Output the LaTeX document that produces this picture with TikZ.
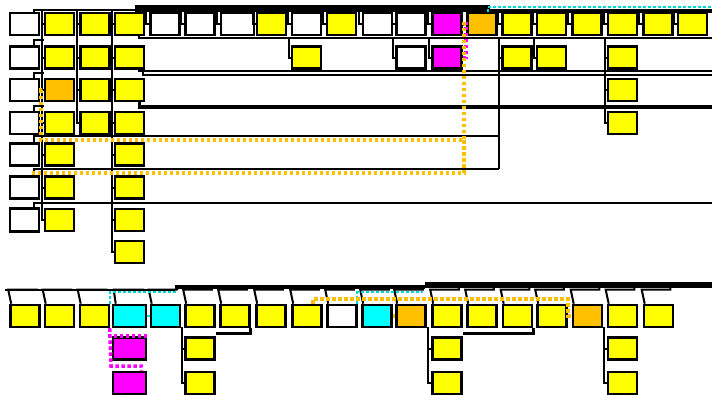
\documentclass[tikz,border=0pt]{standalone}
\usepackage{xcolor}
\usetikzlibrary{positioning}

\definecolor{cellyellow}{RGB}{255,255,0}
\definecolor{cellorange}{RGB}{255,192,0}
\definecolor{cellmagenta}{RGB}{255,0,255}
\definecolor{cellcyan}{RGB}{0,255,255}
\definecolor{dotcyan}{RGB}{0,215,215}

\tikzset{
  cell/.style={draw,line width=2.6pt,minimum width=29pt,minimum height=22pt,inner sep=0pt},
  wcell/.style={cell,fill=white},
  ycell/.style={cell,fill=cellyellow},
  ocell/.style={cell,fill=cellorange},
  mcell/.style={cell,fill=cellmagenta},
  ccell/.style={cell,fill=cellcyan},
  link/.style={line width=2pt},
  orgdot/.style={draw=cellorange,line width=3.5pt,dash pattern=on 3.5pt off 2.5pt},
  magdot/.style={draw=cellmagenta,line width=3.5pt,dash pattern=on 3.5pt off 2.5pt},
  cyandash/.style={draw=dotcyan,line width=2pt,dash pattern=on 3pt off 2pt}
}

\begin{document}
\begin{tikzpicture}[x=1pt,y=-1pt]
\useasboundingbox (0,0) rectangle (712,394);

% upper block, first row
\node[wcell] (r1c1) at (24.5,24) {};
\node[ycell] (r1c2) at (59.5,24) {};
\node[ycell] (r1c3) at (95,24) {};
\node[ycell] (r1c4) at (129.5,24) {};
\node[wcell] (r1c5) at (165,24) {};
\node[wcell] (r1c6) at (200,24) {};
\node[wcell,minimum width=33pt] (r1c7) at (237.5,24) {};
\node[ycell] (r1c8) at (271.5,24) {};
\node[wcell] (r1c9) at (306.5,24) {};
\node[ycell] (r1c10) at (341.5,24) {};
\node[wcell] (r1c11) at (377.5,24) {};
\node[wcell] (r1c12) at (411,24) {};
\node[mcell] (r1c13) at (447,24) {};
\node[ocell] (r1c14) at (482,24) {};
\node[ycell] (r1c15) at (517,24) {};
\node[ycell] (r1c16) at (551.5,24) {};
\node[ycell] (r1c17) at (587,24) {};
\node[ycell] (r1c18) at (622.5,24) {};
\node[ycell] (r1c19) at (658,24) {};
\node[ycell] (r1c20) at (692.5,24) {};

% upper block, lower rows
\node[wcell] (r2c1) at (24.5,57.5) {};
\node[ycell] (r2c2) at (59.5,57.5) {};
\node[ycell] (r2c3) at (95,57.5) {};
\node[ycell] (r2c4) at (129.5,57.5) {};
\node[ycell] (r2c9) at (306.5,57.5) {};
\node[wcell] (r2c12) at (411,57.5) {};
\node[mcell] (r2c13) at (447,57.5) {};
\node[ycell] (r2c15) at (517,57.5) {};
\node[ycell] (r2c16) at (551.5,57.5) {};
\node[ycell] (r2c18) at (622.5,57.5) {};

\node[wcell] (r3c1) at (24.5,90) {};
\node[ocell] (r3c2) at (59.5,90) {};
\node[ycell] (r3c3) at (95,90) {};
\node[ycell] (r3c4) at (129.5,90) {};
\node[ycell] (r3c18) at (622.5,90) {};

\node[wcell] (r4c1) at (24.5,123) {};
\node[ycell] (r4c2) at (59.5,123) {};
\node[ycell] (r4c3) at (95,123) {};
\node[ycell] (r4c4) at (129.5,123) {};
\node[ycell] (r4c18) at (622.5,123) {};

\node[wcell] (r5c1) at (24.5,154.5) {};
\node[ycell] (r5c2) at (59.5,154.5) {};
\node[ycell] (r5c4) at (129.5,154.5) {};

\node[wcell] (r6c1) at (24.5,187.5) {};
\node[ycell] (r6c2) at (59.5,187.5) {};
\node[ycell] (r6c4) at (129.5,187.5) {};

\node[wcell,minimum height=23pt] (r7c1) at (24.5,220) {};
\node[ycell] (r7c2) at (59.5,220) {};
\node[ycell] (r7c4) at (129.5,220) {};

\node[ycell] (r8c4) at (129.5,252) {};

% lower block
\node[ycell] (b1) at (25,316) {};
\node[ycell] (b2) at (59.5,316) {};
\node[ycell] (b3) at (94.5,316) {};
\node[ccell,minimum width=33pt] (b4) at (129.5,316) {};
\node[ccell] (b5) at (165.5,316) {};
\node[ycell] (b6) at (200,316) {};
\node[ycell] (b7) at (235,316) {};
\node[ycell] (b8) at (271,316) {};
\node[ycell] (b9) at (307,316) {};
\node[wcell] (b10) at (342,316) {};
\node[ccell] (b11) at (377,316) {};
\node[ocell] (b12) at (411,316) {};
\node[ycell] (b13) at (447,316) {};
\node[ycell] (b14) at (482,316) {};
\node[ycell] (b15) at (517.5,316) {};
\node[ycell] (b16) at (552,316) {};
\node[ocell] (b17) at (587.5,316) {};
\node[ycell] (b18) at (622.5,316) {};
\node[ycell] (b19) at (658.5,316) {};

\node[mcell,minimum width=33pt] (b4s1) at (129.5,348.5) {};
\node[mcell,minimum width=33pt] (b4s2) at (129.5,383) {};
\node[ycell] (b6s1) at (200,348.5) {};
\node[ycell] (b6s2) at (200,383) {};
\node[ycell] (b13s1) at (447,348.5) {};
\node[ycell] (b13s2) at (447,383) {};
\node[ycell] (b18s1) at (622.5,348.5) {};
\node[ycell] (b18s2) at (622.5,383) {};

% bus and trunk points
\coordinate (tb1) at (135,10);
\coordinate (tb2) at (135,8);
\coordinate (tb3) at (490,8);
\coordinate (tb4) at (490,11);
\coordinate (tb5) at (712,11);
\coordinate (k2) at (42,10);
\coordinate (k3) at (77,10);
\coordinate (k4) at (112,10);
\coordinate (k18) at (605,38);
\coordinate (k499) at (499,38);
\coordinate (g1R) at (712,38);
\coordinate (g2R) at (712,71);
\coordinate (g2S) at (712,75);
\coordinate (g3R) at (712,107);
\coordinate (g4R) at (499,136);
\coordinate (g5R) at (499,169);
\coordinate (g6R) at (712,203);
\coordinate (oA) at (464,140);
\coordinate (oB) at (41,140);
\coordinate (oC) at (464,173);
\coordinate (mgk) at (466,40);
\coordinate (cyT) at (712,7);

\coordinate (bb0) at (5,290);
\coordinate (bb1) at (175,290);
\coordinate (bb2) at (175,287);
\coordinate (bb3) at (425,287);
\coordinate (bb4) at (425,285);
\coordinate (bb5) at (712,285);
\coordinate (b6k) at (182,327);
\coordinate (b13k) at (428,327);
\coordinate (b18k) at (604,327);
\coordinate (mk) at (111,366);
\coordinate (od1) at (568,299);
\coordinate (cy1) at (177,292);
\coordinate (cy2) at (423,292);

% upper bus
\draw[link] ([xshift=-6pt]r1c1.north east) |- (tb1);
\draw[line width=7pt] (tb2) -- (tb3);
\draw[line width=4pt] (tb4) -- (tb5);
\draw[link] (r1c5.west) -| ([xshift=-3pt]r1c5.north west |- tb1);
\draw[link] (r1c6.west) -| ([xshift=-3pt]r1c6.north west |- tb1);
\draw[link] (r1c7.west) -| ([xshift=-3pt]r1c7.north west |- tb1);
\draw[link] (r1c8.west) -| ([xshift=-3pt]r1c8.north west |- tb1);
\draw[link] (r1c9.west) -| ([xshift=-3pt]r1c9.north west |- tb1);
\draw[link] (r1c10.west) -| ([xshift=-3pt]r1c10.north west |- tb1);
\draw[link] (r1c11.west) -| ([xshift=-3pt]r1c11.north west |- tb1);
\draw[link] (r1c12.west) -| ([xshift=-3pt]r1c12.north west |- tb1);
\draw[link] (r1c13.west) -| ([xshift=-3pt]r1c13.north west |- tb1);
\draw[link] (r1c15.west) -| ([xshift=-3pt]r1c15.north west |- tb1);
\draw[link] (r1c16.west) -| ([xshift=-3pt]r1c16.north west |- tb1);
\draw[link] (r1c17.west) -| ([xshift=-3pt]r1c17.north west |- tb1);
\draw[link] (r1c18.west) -| ([xshift=-3pt]r1c18.north west |- tb1);
\draw[link] (r1c19.west) -| ([xshift=-3pt]r1c19.north west |- tb1);
\draw[link] (r1c20.west) -| ([xshift=-3pt]r1c20.north west |- tb1);

% trunks of the left columns
\draw[link] (k2) |- (r7c2.west);
\draw[link] (r1c2.west) -- (r1c2.west -| k2);
\draw[link] (r2c2.west) -- (r2c2.west -| k2);
\draw[link] (r3c2.west) -- (r3c2.west -| k2);
\draw[link] (r4c2.west) -- (r4c2.west -| k2);
\draw[link] (r5c2.west) -- (r5c2.west -| k2);
\draw[link] (r6c2.west) -- (r6c2.west -| k2);
\draw[link] (k3) |- (r4c3.west);
\draw[link] (r1c3.west) -- (r1c3.west -| k3);
\draw[link] (r2c3.west) -- (r2c3.west -| k3);
\draw[link] (r3c3.west) -- (r3c3.west -| k3);
\draw[link] (k4) |- (r8c4.west);
\draw[link] (r1c4.west) -- (r1c4.west -| k4);
\draw[link] (r2c4.west) -- (r2c4.west -| k4);
\draw[link] (r3c4.west) -- (r3c4.west -| k4);
\draw[link] (r4c4.west) -- (r4c4.west -| k4);
\draw[link] (r5c4.west) -- (r5c4.west -| k4);
\draw[link] (r6c4.west) -- (r6c4.west -| k4);
\draw[link] (r7c4.west) -- (r7c4.west -| k4);
\draw[link] ([xshift=-6pt]r2c1.north east) |- ([yshift=5pt]r2c2.north west);
\draw[link] ([xshift=-6pt]r3c1.north east) |- ([yshift=5pt]r3c2.north west);
\draw[link] ([xshift=-6pt]r4c1.north east) |- ([yshift=5pt]r4c2.north west);

% long rails of the upper block
\draw[link] ([xshift=-6pt]r1c4.south east) |- (g1R);
\draw[link] (r2c9.west) -| ([xshift=-2pt]r2c9.north west |- g1R);
\draw[link] (r2c12.west) -| ([xshift=-2pt]r2c12.north west |- g1R);
\draw[link] (r2c13.west) -| ([xshift=-2pt]r2c13.north west |- g1R);
\draw[link] (r2c15.west) -| ([xshift=-2pt]r2c15.north west |- g1R);
\draw[link] (r2c16.west) -| ([xshift=-2pt]r2c16.north west |- g1R);
\draw[link] (k18) |- (r4c18.west);
\draw[link] (r2c18.west) -- (r2c18.west -| k18);
\draw[link] (r3c18.west) -- (r3c18.west -| k18);
\draw[link] ([xshift=-6pt]r2c4.south east) |- (g2R);
\draw[link] ([xshift=-2pt]r2c4.south east) |- (g2S);
\draw[line width=3.5pt] ([xshift=-6pt]r3c4.south east) |- (g3R);
\draw[link] ([xshift=-6pt]r5c1.north east) |- (g4R);
\draw[link] ([xshift=-6pt]r6c1.north east) |- (g5R);
\draw[link] (k499) -- (g5R);
\draw[link] ([xshift=-6pt]r7c1.north east) |- (g6R);

% coloured links, upper block
\draw[magdot] (r1c13.east) -| (mgk) |- (r2c13.east);
\draw[orgdot] (r1c14.west) -| (oA) -- (oB) |- (r3c2.west);
\draw[orgdot] (oA) -- (oC) -| ([xshift=-9pt]r6c1.north east);
\draw[cyandash] ([xshift=6pt]r1c14.north) |- (cyT);

% lower bus
\draw[line width=2.5pt] (bb0) -- (bb1);
\draw[line width=4pt] (bb2) -- (bb3);
\draw[line width=6pt] (bb4) -- (bb5);
\draw[link] ([xshift=2pt]b1.north west) -- ++(-3,-14) -| ([xshift=-4pt]b1.north east |- bb1);
\draw[link] ([xshift=2pt]b2.north west) -- ++(-3,-14) -| ([xshift=-4pt]b2.north east |- bb1);
\draw[link] ([xshift=2pt]b3.north west) -- ++(-3,-14) -| ([xshift=-4pt]b3.north east |- bb1);
\draw[link] ([xshift=4pt]b4.north west) -- ++(-2,-14) -| ([xshift=-4pt]b4.north east |- bb1);
\draw[link] ([xshift=2pt]b5.north west) -- ++(-3,-14) -| ([xshift=-4pt]b5.north east |- bb1);
\draw[link] ([xshift=2pt]b6.north west) -- ++(-3,-14) -| ([xshift=-4pt]b6.north east |- bb3);
\draw[link] ([xshift=2pt]b7.north west) -- ++(-3,-14) -| ([xshift=-4pt]b7.north east |- bb3);
\draw[link] ([xshift=2pt]b8.north west) -- ++(-3,-14) -| ([xshift=-4pt]b8.north east |- bb3);
\draw[link] ([xshift=2pt]b9.north west) -- ++(-3,-14) -| ([xshift=-4pt]b9.north east |- bb3);
\draw[link] ([xshift=2pt]b10.north west) -- ++(-3,-14) -| ([xshift=-4pt]b10.north east |- bb3);
\draw[link] ([xshift=2pt]b11.north west) -- ++(-3,-14) -| ([xshift=-4pt]b11.north east |- bb3);
\draw[link] ([xshift=2pt]b12.north west) -- ++(-3,-14) -| ([xshift=-4pt]b12.north east |- bb3);
\draw[link] ([xshift=2pt]b13.north west) -- ++(-3,-14) -| ([xshift=-4pt]b13.north east |- bb5);
\draw[link] ([xshift=2pt]b14.north west) -- ++(-3,-14) -| ([xshift=-4pt]b14.north east |- bb5);
\draw[link] ([xshift=2pt]b15.north west) -- ++(-3,-14) -| ([xshift=-4pt]b15.north east |- bb5);
\draw[link] ([xshift=2pt]b16.north west) -- ++(-3,-14) -| ([xshift=-4pt]b16.north east |- bb5);
\draw[link] ([xshift=2pt]b17.north west) -- ++(-3,-14) -| ([xshift=-4pt]b17.north east |- bb5);
\draw[link] ([xshift=2pt]b18.north west) -- ++(-3,-14) -| ([xshift=-4pt]b18.north east |- bb5);
\draw[link] ([xshift=2pt]b19.north west) -- ++(-3,-14) -| ([xshift=-4pt]b19.north east |- bb5);

% sub-trees of the lower block
\draw[link] (b6k) |- (b6s2.west);
\draw[link] (b6s1.west) -- (b6s1.west -| b6k);
\draw[link] (b13k) |- (b13s2.west);
\draw[link] (b13s1.west) -- (b13s1.west -| b13k);
\draw[link] (b18k) |- (b18s2.west);
\draw[link] (b18s1.west) -- (b18s1.west -| b18k);
\draw[line width=3pt] ([yshift=-5pt]b6.south east) -| (b7.south east);
\draw[line width=3pt] ([yshift=-5pt]b13.south east) -| (b15.south east);

% coloured links, lower block
\draw[magdot] ([xshift=-2pt]b4.south west) |- (b4s1.north east);
\draw[magdot] ([xshift=-2pt]b4.south west) -- (mk) -| ([xshift=-6pt]b4s2.north east);
\draw[cyandash] (b4.east) -- (b5.west);
\draw[cyandash] ([xshift=-2pt]b4.north west) |- (cy1);
\draw[cyandash] ([xshift=-4pt]b11.north west) |- (cy2);
\draw[orgdot] ([xshift=6pt]b9.north) |- (od1) |- (b17.west);
\draw[orgdot] (b11.east) -- (b12.west);

\end{tikzpicture}
\end{document}
